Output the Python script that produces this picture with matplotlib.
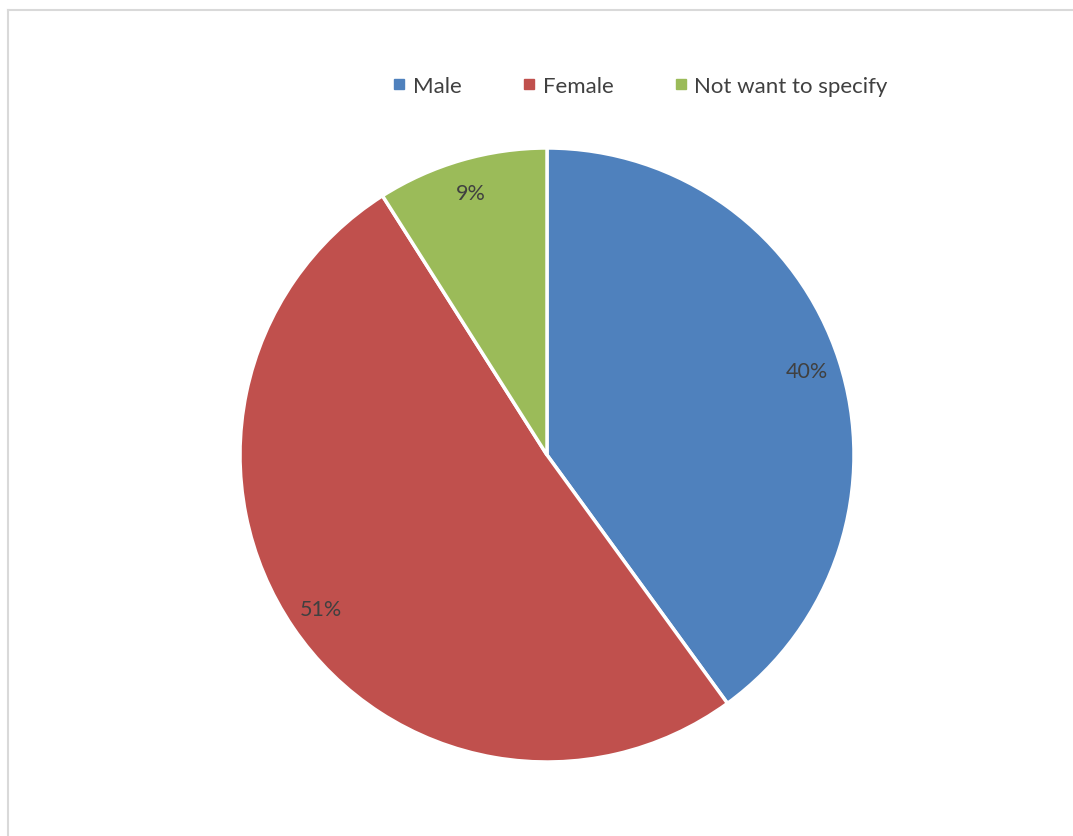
import matplotlib.pyplot as plt
from matplotlib.lines import Line2D

categorias = ['Male', 'Female', 'Not want to specify']
valores = [40, 51, 9]
cores = ['#4F81BD', '#C0504D', '#9BBB59']

plt.rcParams['font.family'] = ['Lato', 'DejaVu Sans']

W, H = 1073, 837
fig = plt.figure(figsize=(W / 100, H / 100), dpi=100)

# moldura cinza clara (só esquerda e topo aparecem)
x0, y0 = 7.5 / W, 1 - 10.5 / H
fig.add_artist(Line2D([x0, x0], [0, y0], transform=fig.transFigure, color='#D9D9D9', linewidth=1.5))
fig.add_artist(Line2D([x0, 1], [y0, y0], transform=fig.transFigure, color='#D9D9D9', linewidth=1.5))

cx, cy, r = 547, 456, 307
ax = fig.add_axes([(cx - r) / W, 1 - (cy + r) / H, 2 * r / W, 2 * r / H])
fatias, textos, pcts = ax.pie(valores, colors=cores, startangle=90, counterclock=False,
                              autopct='%1.0f%%', pctdistance=0.89, radius=1,
                              wedgeprops={'edgecolor': 'white', 'linewidth': 2.5},
                              textprops={'color': '#404040', 'fontsize': 15.5})
ax.set_xlim(-1, 1)
ax.set_ylim(-1, 1)
ax.set_aspect('equal', adjustable='box')

marcadores = [Line2D([], [], marker='s', linestyle='', markersize=6.5,
                     markerfacecolor=c, markeredgecolor=c) for c in cores]
fig.legend(marcadores, categorias, loc='center', bbox_to_anchor=(638 / W, 1 - 87 / H),
           ncol=3, frameon=False, fontsize=16, handletextpad=0.1, columnspacing=2.55,
           labelcolor='#404040', handlelength=1.0)

fig.savefig('out.png', dpi=100)
